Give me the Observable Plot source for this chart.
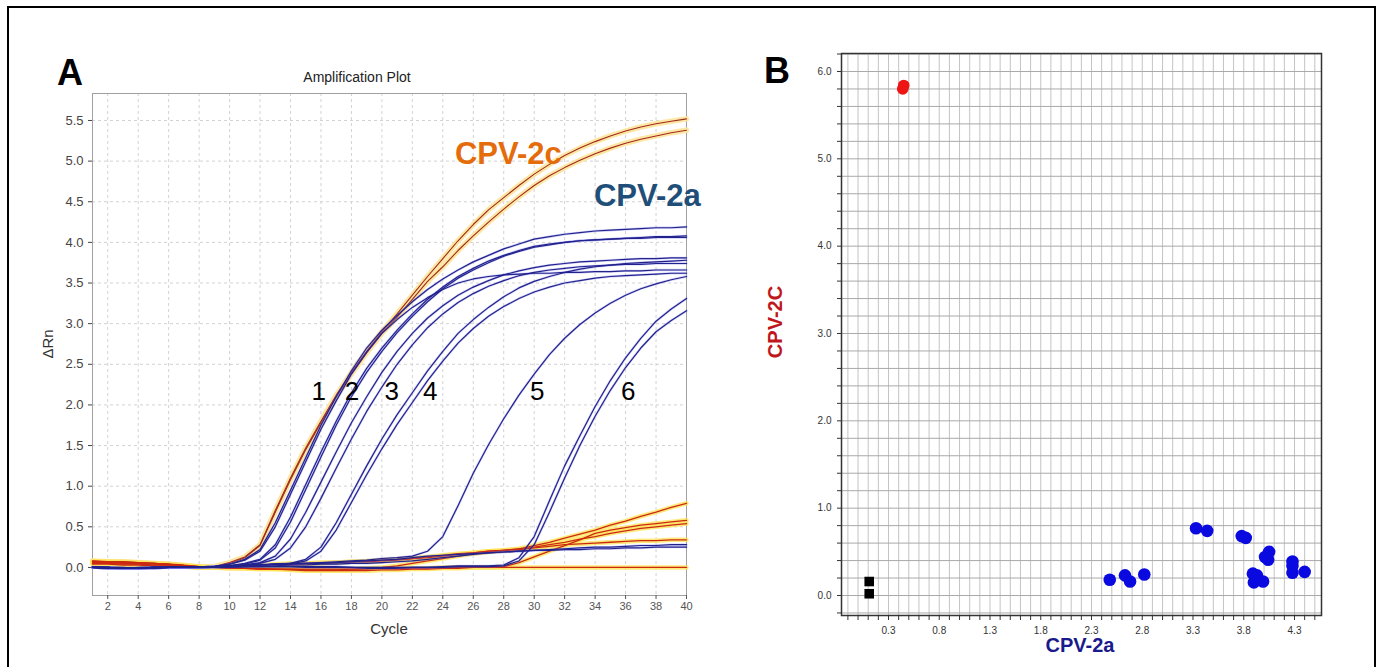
<!DOCTYPE html>
<html><head><meta charset="utf-8">
<script src="https://cdn.jsdelivr.net/npm/d3@7"></script>
<script src="https://cdn.jsdelivr.net/npm/@observablehq/plot@0.6"></script>
<style>
html,body{margin:0;padding:0;background:#fff;overflow:hidden;}
#root{position:relative;width:1379px;height:667px;font-family:"Liberation Sans",Arial,sans-serif;}
#border{position:absolute;left:7px;top:6px;width:1365px;height:700px;border:2px solid #000;}
.abs{position:absolute;}
#overlay{position:absolute;left:0;top:0;pointer-events:none;}
</style></head><body>
<div id="root"><div id="border"></div>
<div id="pa" class="abs" style="left:10px;top:10px"></div>
<div id="pb" class="abs" style="left:740px;top:10px"></div>
<svg id="overlay" width="1379" height="667" font-family="Liberation Sans, Arial, sans-serif">
  <text x="57" y="85" font-size="36" font-weight="bold" fill="#000">A</text>
  <text x="764" y="83" font-size="36" font-weight="bold" fill="#000">B</text>
  <text x="357" y="82" font-size="14" text-anchor="middle" fill="#222">Amplification Plot</text>
  <text x="389" y="634" font-size="15" text-anchor="middle" fill="#333">Cycle</text>
  <text transform="translate(53,344) rotate(-90)" font-size="15" text-anchor="middle" fill="#333">ΔRn</text>
  <text transform="translate(782,322) rotate(-90)" font-size="20" font-weight="bold" text-anchor="middle" fill="#c0171d">CPV-2C</text>
  <text x="1080" y="652" font-size="20" font-weight="bold" text-anchor="middle" fill="#1a1a8c">CPV-2a</text>
</svg>
</div>
<script>
// ---------- Panel A: amplification curves (ΔRn per cycle) ----------
const cycles = [1,2,3,4,5,6,7,8,9,10,11,12,13,14,15,16,17,18,19,20,21,22,23,24,25,26,27,28,29,30,31,32,33,34,35,36,37,38,39,40];

const cpv2cHigh = [0.08,0.07,0.07,0.06,0.05,0.04,0.02,0.00,0.01,0.06,
  0.13,0.28,0.70,1.10,1.47,1.80,2.12,2.40,2.66,2.90,
  3.12,3.35,3.58,3.80,4.02,4.22,4.40,4.55,4.70,4.84,
  4.96,5.07,5.16,5.24,5.31,5.37,5.42,5.46,5.49,5.52];
const cpv2cLow = [0.07,0.07,0.06,0.05,0.05,0.04,0.02,0.01,0.01,0.05,
  0.12,0.27,0.68,1.08,1.45,1.78,2.10,2.38,2.64,2.88,
  3.08,3.30,3.52,3.70,3.90,4.08,4.25,4.41,4.56,4.70,
  4.82,4.92,5.01,5.09,5.16,5.22,5.27,5.31,5.35,5.38];

const cpv2a1a = [0.00,-0.01,-0.01,-0.01,0.00,0.00,0.00,0.00,0.01,0.04,
  0.10,0.22,0.55,0.95,1.35,1.75,2.10,2.42,2.70,2.92,
  3.10,3.27,3.42,3.55,3.66,3.76,3.84,3.92,3.98,4.04,
  4.07,4.10,4.12,4.14,4.15,4.16,4.17,4.18,4.18,4.19];
const cpv2a1b = [0.01,0.00,0.00,-0.01,-0.01,0.00,0.00,0.00,0.01,0.04,
  0.09,0.20,0.50,0.90,1.30,1.70,2.05,2.38,2.65,2.88,
  3.05,3.20,3.32,3.42,3.50,3.55,3.58,3.60,3.61,3.62,
  3.62,3.63,3.63,3.64,3.64,3.65,3.65,3.66,3.66,3.66];
const cpv2a2a = [0.00,-0.01,-0.01,-0.01,-0.01,0.00,0.00,0.00,0.01,0.02,
  0.05,0.10,0.28,0.62,1.02,1.42,1.80,2.15,2.45,2.70,
  2.92,3.12,3.30,3.45,3.58,3.68,3.77,3.84,3.90,3.95,
  3.98,4.00,4.02,4.03,4.04,4.05,4.06,4.07,4.07,4.08];
const cpv2a2b = [0.00,0.00,-0.01,-0.01,0.00,0.00,0.00,0.00,0.01,0.02,
  0.04,0.09,0.24,0.56,0.96,1.36,1.75,2.10,2.40,2.66,
  2.89,3.09,3.27,3.43,3.56,3.66,3.75,3.83,3.89,3.94,
  3.97,4.00,4.02,4.03,4.04,4.05,4.05,4.06,4.06,4.06];
const cpv2a3a = [0.00,0.00,-0.01,-0.01,-0.01,0.00,0.00,0.00,0.01,0.02,
  0.03,0.06,0.14,0.35,0.68,1.05,1.42,1.78,2.10,2.40,
  2.66,2.88,3.07,3.22,3.35,3.45,3.53,3.60,3.65,3.69,
  3.72,3.74,3.76,3.77,3.78,3.79,3.80,3.80,3.81,3.81];
const cpv2a3b = [0.00,-0.01,-0.01,-0.01,0.00,0.00,0.00,0.00,0.01,0.02,
  0.03,0.05,0.10,0.24,0.50,0.85,1.22,1.58,1.92,2.22,
  2.50,2.74,2.95,3.12,3.26,3.37,3.46,3.53,3.59,3.63,
  3.66,3.68,3.70,3.71,3.72,3.73,3.73,3.74,3.74,3.74];
const cpv2a4a = [0.00,0.00,-0.01,-0.01,0.00,0.00,0.00,0.00,0.01,0.02,
  0.03,0.03,0.04,0.05,0.10,0.25,0.55,0.90,1.25,1.58,
  1.88,2.15,2.42,2.66,2.88,3.05,3.20,3.33,3.44,3.52,
  3.58,3.63,3.67,3.70,3.72,3.74,3.75,3.76,3.77,3.78];
const cpv2a4b = [0.00,-0.01,-0.01,0.00,0.00,0.00,0.00,0.00,0.01,0.02,
  0.03,0.03,0.04,0.04,0.08,0.20,0.46,0.80,1.14,1.46,
  1.76,2.03,2.30,2.54,2.76,2.94,3.09,3.21,3.31,3.39,
  3.45,3.50,3.53,3.56,3.58,3.59,3.60,3.61,3.62,3.62];
const cpv2a5 = [0.00,-0.01,-0.01,-0.01,0.00,0.00,0.00,0.00,0.01,0.02,
  0.03,0.03,0.04,0.05,0.05,0.06,0.07,0.08,0.09,0.11,
  0.12,0.14,0.20,0.38,0.76,1.16,1.51,1.83,2.12,2.38,
  2.62,2.82,2.99,3.13,3.25,3.35,3.43,3.49,3.54,3.58];
const cpv2a6a = [0.00,-0.01,-0.01,-0.01,0.00,0.00,0.00,0.00,0.00,0.01,
  0.01,0.01,0.01,0.01,0.01,0.01,0.01,0.00,0.00,0.00,
  0.00,0.00,0.00,0.01,0.02,0.02,0.02,0.03,0.12,0.38,
  0.82,1.25,1.62,1.98,2.30,2.58,2.82,3.03,3.18,3.31];
const cpv2a6b = [0.00,0.00,-0.01,-0.01,-0.01,0.00,0.00,0.00,0.00,0.00,
  0.01,0.01,0.01,0.01,0.00,0.00,0.00,0.00,-0.01,-0.01,
  -0.01,0.00,0.00,0.00,0.01,0.01,0.01,0.02,0.08,0.28,
  0.68,1.10,1.50,1.86,2.18,2.46,2.70,2.90,3.04,3.16];
const cpv2aNeg1 = [0.00,-0.01,-0.01,-0.01,0.00,0.00,0.00,0.00,0.01,0.02,
  0.03,0.03,0.04,0.04,0.05,0.05,0.06,0.07,0.08,0.09,
  0.10,0.12,0.14,0.15,0.16,0.17,0.18,0.19,0.20,0.21,
  0.22,0.23,0.24,0.25,0.25,0.26,0.27,0.27,0.28,0.28];
const cpv2aNeg2 = [0.00,0.00,-0.01,-0.01,-0.01,0.00,0.00,0.00,0.00,0.01,
  0.01,0.02,0.02,0.03,0.03,0.04,0.04,0.05,0.05,0.06,
  0.07,0.08,0.10,0.12,0.14,0.16,0.18,0.19,0.20,0.21,
  0.21,0.22,0.22,0.23,0.23,0.24,0.24,0.25,0.25,0.25];

const cpv2cNeg1 = [0.08,0.07,0.07,0.06,0.05,0.04,0.02,0.00,0.00,-0.01,
  -0.01,-0.02,-0.02,-0.02,-0.03,-0.03,-0.03,-0.02,-0.01,0.00,
  0.02,0.05,0.08,0.11,0.14,0.17,0.19,0.21,0.23,0.27,
  0.31,0.36,0.41,0.46,0.52,0.57,0.63,0.68,0.74,0.79];
const cpv2cNeg2 = [0.06,0.06,0.05,0.05,0.04,0.03,0.02,0.01,0.00,0.00,
  -0.01,-0.01,-0.02,-0.03,-0.04,-0.04,-0.04,-0.04,-0.04,-0.03,
  -0.03,-0.02,-0.02,-0.01,-0.01,0.00,0.00,0.01,0.06,0.13,
  0.20,0.27,0.34,0.42,0.46,0.49,0.52,0.54,0.56,0.58];
const cpv2cNeg3 = [0.07,0.07,0.06,0.05,0.05,0.04,0.03,0.01,0.00,0.01,
  0.02,0.03,0.04,0.05,0.05,0.06,0.06,0.07,0.07,0.08,
  0.09,0.11,0.13,0.15,0.17,0.18,0.20,0.21,0.22,0.25,
  0.28,0.31,0.35,0.38,0.42,0.45,0.48,0.50,0.52,0.54];
const cpv2cNeg4 = [0.05,0.05,0.04,0.04,0.03,0.03,0.02,0.01,0.00,0.00,
  0.01,0.01,0.02,0.03,0.04,0.05,0.06,0.07,0.08,0.09,
  0.10,0.11,0.12,0.14,0.16,0.18,0.20,0.21,0.22,0.24,
  0.26,0.28,0.29,0.30,0.31,0.32,0.33,0.33,0.34,0.34];
const cpv2cNeg5 = [0.04,0.04,0.03,0.03,0.02,0.02,0.01,0.00,0.00,-0.01,
  -0.01,-0.02,-0.02,-0.02,-0.02,-0.02,-0.02,-0.02,-0.02,-0.01,
  -0.01,-0.01,-0.01,0.00,0.00,0.00,0.00,0.00,0.00,0.00,
  0.00,0.00,0.00,0.00,0.00,0.00,0.00,0.00,0.00,0.00];

const aYTicks = [0,0.5,1,1.5,2,2.5,3,3.5,4,4.5,5,5.5];
const aXTicks = [2,4,6,8,10,12,14,16,18,20,22,24,26,28,30,32,34,36,38,40];

const dilutionLabels = ["1","2","3","4","5","6"];
const dilutionX = [15.85,18.03,20.65,23.17,30.2,36.17];
const dilutionY = [2.16,2.16,2.16,2.16,2.16,2.16];

const seriesLabels = ["CPV-2c","CPV-2a"];
const seriesLabelX = [28.3,37.43];
const seriesLabelY = [5.09,4.57];
const seriesLabelColor = ["#e46c0a","#1f4e79"];

// ---------- Panel B: allelic discrimination scatter ----------
const redX = [0.44,0.45];
const redY = [5.80,5.84];
const blackX = [0.11,0.11];
const blackY = [0.16,0.02];
const blueX = [2.48,2.63,2.68,2.82,3.33,3.44,3.78,3.82,4.05,4.01,4.04,3.89,3.93,3.90,3.99,4.28,4.28,4.28,4.40];
const blueY = [0.18,0.23,0.16,0.24,0.77,0.74,0.68,0.66,0.50,0.44,0.41,0.25,0.23,0.15,0.16,0.39,0.34,0.26,0.27];
const bXTicks = [0.3,0.8,1.3,1.8,2.3,2.8,3.3,3.8,4.3];
const bYTicks = [0,1,2,3,4,5,6];

// ---------- build tables ----------
const orangeSeries = [
  ["c2c-hi", cpv2cHigh, "pos"], ["c2c-lo", cpv2cLow, "pos"],
  ["c2c-n1", cpv2cNeg1, "neg"], ["c2c-n2", cpv2cNeg2, "neg"], ["c2c-n3", cpv2cNeg3, "neg"],
  ["c2c-n4", cpv2cNeg4, "neg"], ["c2c-n5", cpv2cNeg5, "neg"]
];
const blueSeries = [
  ["a1a", cpv2a1a], ["a1b", cpv2a1b], ["a2a", cpv2a2a], ["a2b", cpv2a2b],
  ["a3a", cpv2a3a], ["a3b", cpv2a3b], ["a4a", cpv2a4a], ["a4b", cpv2a4b],
  ["a5", cpv2a5], ["a6a", cpv2a6a], ["a6b", cpv2a6b], ["an1", cpv2aNeg1], ["an2", cpv2aNeg2]
];
const toRows = (id, vals, kind) => vals.map((v, i) => ({cycle: cycles[i], value: v, id, kind}));
const orangeRows = orangeSeries.flatMap(([id, v, k]) => toRows(id, v, k));
const orangePos = orangeRows.filter(d => d.kind === "pos");
const orangeNeg = orangeRows.filter(d => d.kind === "neg");
const blueRows = blueSeries.flatMap(([id, v]) => toRows(id, v, "a"));
const dilutionRows = dilutionLabels.map((t, i) => ({t, x: dilutionX[i], y: dilutionY[i]}));
const seriesRows = seriesLabels.map((t, i) => ({t, x: seriesLabelX[i], y: seriesLabelY[i], c: seriesLabelColor[i]}));

const font = "Liberation Sans, Arial, sans-serif";

const plotA = Plot.plot({
  width: 710, height: 640,
  marginLeft: 82, marginRight: 34, marginTop: 83, marginBottom: 55,
  style: {background: "transparent", fontFamily: font, overflow: "visible"},
  x: {domain: [1, 40]},
  y: {domain: [-0.345, 5.832]},
  marks: [
    Plot.gridX({ticks: aXTicks, stroke: "#d2d2d2", strokeOpacity: 1, strokeDasharray: "3,3"}),
    Plot.gridY({ticks: aYTicks, stroke: "#d2d2d2", strokeOpacity: 1, strokeDasharray: "3,3"}),
    Plot.frame({stroke: "#a0a0a0"}),
    Plot.axisY({ticks: aYTicks, tickFormat: d3.format(".1f"), tickSize: 4, tickPadding: 5, fontSize: 13, color: "#444", label: null}),
    Plot.axisX({ticks: aXTicks, tickSize: 4, tickPadding: 3, fontSize: 11, color: "#555", label: null}),
    Plot.line(orangePos, {x: "cycle", y: "value", z: "id", stroke: "#fde6a0", strokeWidth: 5.5, strokeOpacity: 0.95}),
    Plot.line(orangeNeg, {x: "cycle", y: "value", z: "id", stroke: "#ffe35a", strokeWidth: 4.5, strokeOpacity: 0.8}),
    Plot.line(orangePos, {x: "cycle", y: "value", z: "id", stroke: "#a2281c", strokeWidth: 1.1}),
    Plot.line(orangeNeg, {x: "cycle", y: "value", z: "id", stroke: "#cc2a10", strokeWidth: 1.3}),
    Plot.line(blueRows, {x: "cycle", y: "value", z: "id", stroke: "#6a6af0", strokeWidth: 2.4, strokeOpacity: 0.3}),
    Plot.line(blueRows, {x: "cycle", y: "value", z: "id", stroke: "#22228c", strokeWidth: 1.2}),
    Plot.text(dilutionRows, {x: "x", y: "y", text: "t", fontSize: 26, fill: "#000", fontFamily: font}),
    Plot.text(seriesRows, {x: "x", y: "y", text: "t", fontSize: 31, fontWeight: "bold", fill: "c", fontFamily: font})
  ]
});
document.getElementById("pa").appendChild(plotA);

const redRows = redX.map((x, i) => ({x, y: redY[i]}));
const blackRows = blackX.map((x, i) => ({x, y: blackY[i]}));
const blueDotRows = blueX.map((x, i) => ({x, y: blueY[i]}));

const plotB = Plot.plot({
  width: 620, height: 650,
  marginLeft: 101, marginRight: 39, marginTop: 43, marginBottom: 45,
  style: {background: "transparent", fontFamily: font, overflow: "visible"},
  x: {domain: [-0.163, 4.566]},
  y: {domain: [-0.229, 6.206]},
  marks: [
    Plot.gridX({ticks: d3.range(-0.1, 4.55, 0.1), stroke: "#c4c4c4", strokeOpacity: 1}),
    Plot.gridY({ticks: d3.range(-0.2, 6.21, 0.2), stroke: "#a9a9a9", strokeOpacity: 1}),
    Plot.frame({stroke: "#333", strokeWidth: 1.5}),
    Plot.axisX({ticks: d3.range(-0.1, 4.55, 0.1), tickSize: 5, tickFormat: () => "", color: "#333", label: null}),
    Plot.axisX({ticks: bXTicks, tickSize: 0, tickPadding: 11, tickFormat: d3.format(".1f"), fontSize: 10, color: "#333", label: null}),
    Plot.axisY({ticks: d3.range(-0.2, 6.21, 0.2), tickSize: 4, tickFormat: () => "", color: "#333", label: null}),
    Plot.axisY({ticks: bYTicks, tickSize: 0, tickPadding: 10, tickFormat: d3.format(".1f"), fontSize: 10, color: "#333", label: null}),
    Plot.dot(blackRows, {x: "x", y: "y", symbol: "square", r: 5.4, fill: "#000", stroke: null}),
    Plot.dot(redRows, {x: "x", y: "y", r: 5.8, fill: "#ee1515", stroke: null}),
    Plot.dot(blueDotRows, {x: "x", y: "y", r: 6.3, fill: "#0a0ae0", stroke: null})
  ]
});
document.getElementById("pb").appendChild(plotB);
</script>
</body></html>
